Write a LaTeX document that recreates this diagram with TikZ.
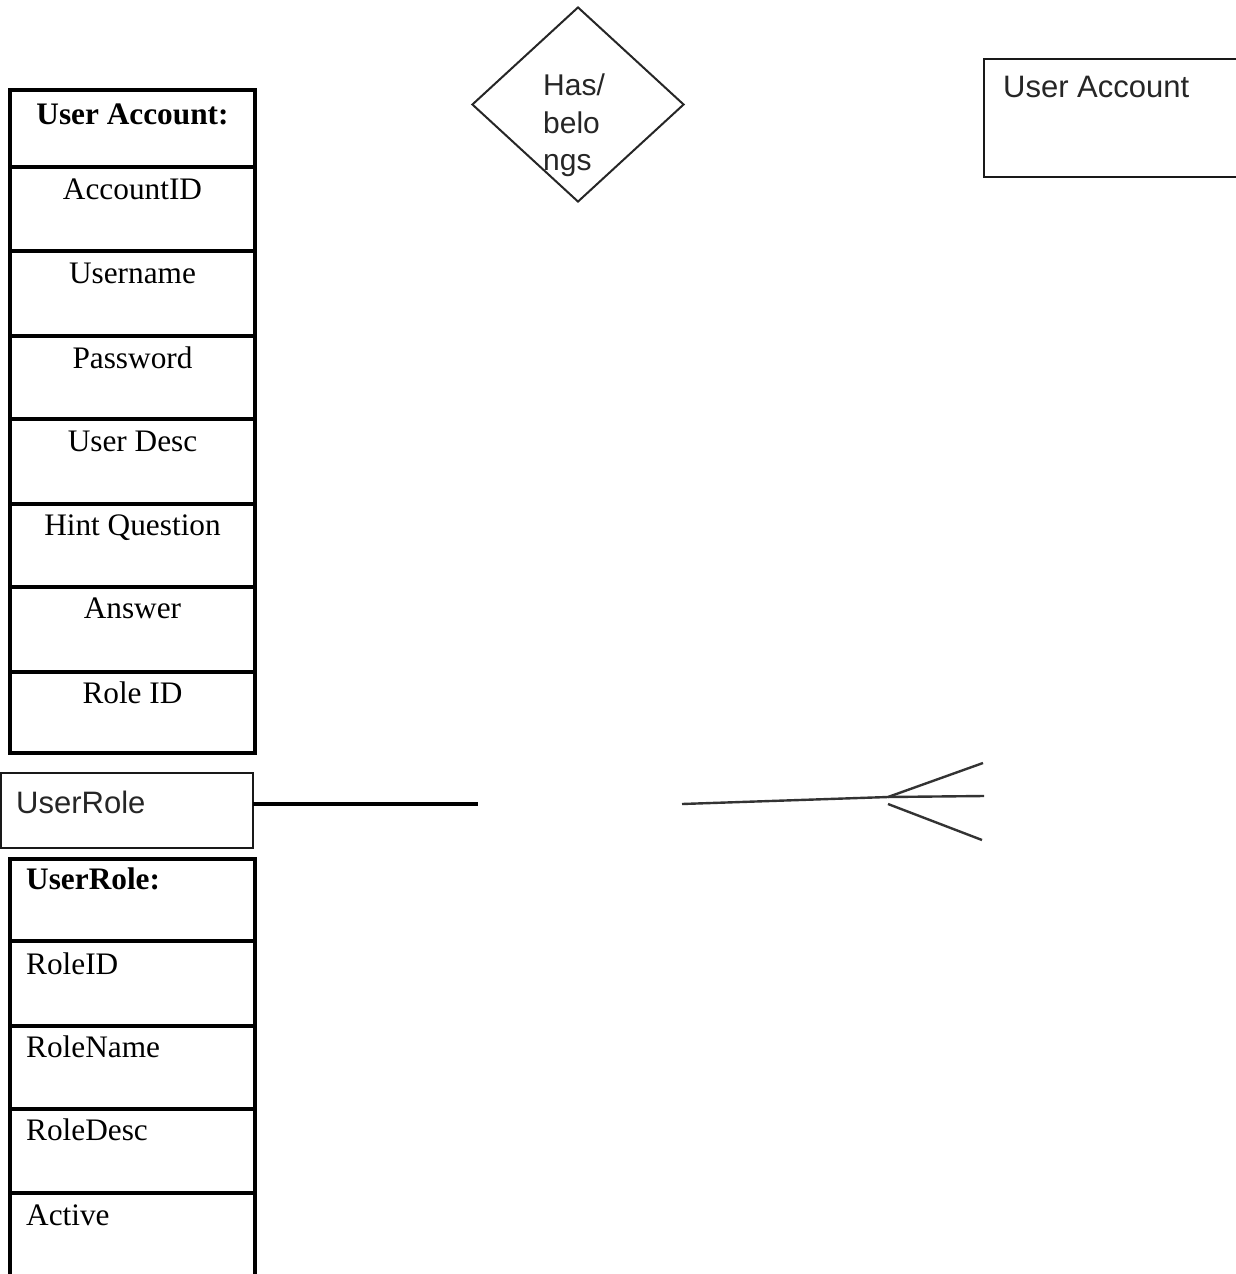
\documentclass[tikz,border=0pt]{standalone}
\usepackage{fontspec}
\newfontfamily\tabfont{Liberation Serif}
\newfontfamily\boxfont{Liberation Sans}
\usetikzlibrary{shapes.geometric}
\begin{document}
\begin{tikzpicture}[x=1pt,y=-1pt,
  cell/.style={draw=black, line width=3.4pt, minimum width=245pt, inner sep=0pt, outer sep=0pt, anchor=north west},
  field/.style={font=\tabfont\fontsize{31.3}{37}\selectfont, inner sep=0pt, anchor=base},
  lfield/.style={field, anchor=base west},
  head/.style={field, font=\tabfont\bfseries\fontsize{31.3}{37}\selectfont},
  lhead/.style={head, anchor=base west},
  entbox/.style={draw=black!90, line width=2.8pt, inner sep=0pt, outer sep=0pt, anchor=north west},
  sanstext/.style={font=\boxfont\fontsize{31}{37}\selectfont, text=black!85, inner sep=0pt, anchor=base west},
  reltext/.style={font=\boxfont\fontsize{30}{36}\selectfont, text=black!85, inner sep=0pt, anchor=base west},
  foot/.style={draw=black!80, line width=2.4pt}
]
\useasboundingbox (0,0) rectangle (1236,1274);

% ---- User Account attribute table ----
\node[cell, minimum height=77pt] (ua0) at (10,90) {};
\node[cell, minimum height=84pt] (ua1) at (10,167) {};
\node[cell, minimum height=85pt] (ua2) at (10,251) {};
\node[cell, minimum height=83pt] (ua3) at (10,336) {};
\node[cell, minimum height=85pt] (ua4) at (10,419) {};
\node[cell, minimum height=83pt] (ua5) at (10,504) {};
\node[cell, minimum height=85pt] (ua6) at (10,587) {};
\node[cell, minimum height=81pt] (ua7) at (10,672) {};

\node[head]  (ua0t) at ([yshift=-34pt]ua0.north) {User Account:};
\node[field] (ua1t) at ([yshift=-32pt]ua1.north) {AccountID};
\node[field] (ua2t) at ([yshift=-32pt]ua2.north) {Username};
\node[field] (ua3t) at ([yshift=-32pt]ua3.north) {Password};
\node[field] (ua4t) at ([yshift=-32pt]ua4.north) {User Desc};
\node[field] (ua5t) at ([yshift=-31pt]ua5.north) {Hint Question};
\node[field] (ua6t) at ([yshift=-31pt]ua6.north) {Answer};
\node[field] (ua7t) at ([yshift=-31pt]ua7.north) {Role ID};

% ---- UserRole attribute table ----
\node[cell, minimum height=82pt] (ur0) at (10,859) {};
\node[cell, minimum height=85pt] (ur1) at (10,941) {};
\node[cell, minimum height=83pt] (ur2) at (10,1026) {};
\node[cell, minimum height=84pt] (ur3) at (10,1109) {};
\node[cell, minimum height=100pt] (ur4) at (10,1193) {};

\node[lhead]  (ur0t) at ([xshift=16pt,yshift=-30pt]ur0.north west) {UserRole:};
\node[lfield] (ur1t) at ([xshift=16pt,yshift=-33pt]ur1.north west) {RoleID};
\node[lfield] (ur2t) at ([xshift=16pt,yshift=-31pt]ur2.north west) {RoleName};
\node[lfield] (ur3t) at ([xshift=16pt,yshift=-31pt]ur3.north west) {RoleDesc};
\node[lfield] (ur4t) at ([xshift=16pt,yshift=-32pt]ur4.north west) {Active};

% ---- entity boxes ----
\node[entbox, minimum width=252pt, minimum height=75pt] (role) at (1,773) {};
\node[sanstext] (roletext) at (16,813) {UserRole};

\node[entbox, minimum width=262pt, minimum height=118pt] (acct) at (984,59) {};
\node[sanstext] (accttext) at (1003,97) {User Account};

% ---- relationship diamond ----
\node[diamond, draw=black!85, line width=2pt, minimum width=212pt, minimum height=195pt, inner sep=0pt] (rel) at (578,104.5) {};
\node[reltext] (rel1) at (543,95) {Has/};
\node[reltext] (rel2) at (543,133) {belo};
\node[reltext] (rel3) at (543,170) {ngs};

% ---- one side of the relationship ----
\coordinate (oneEnd) at (478,804);
\draw[line width=3.4pt, black] (role.east |- oneEnd) -- (oneEnd);

% ---- crow's foot (many side) ----
\coordinate (cfA) at (682,804);
\coordinate (cfB) at (888,797);
\coordinate (cfC) at (888,804);
\coordinate (cfT) at (983,763);
\coordinate (cfM) at (984,796);
\coordinate (cfL) at (982,840);
\draw[foot] (cfA) -- (cfB) -- (cfT);
\draw[foot] (cfB) -- (cfM);
\draw[foot] (cfC) -- (cfL);
\end{tikzpicture}
\end{document}
